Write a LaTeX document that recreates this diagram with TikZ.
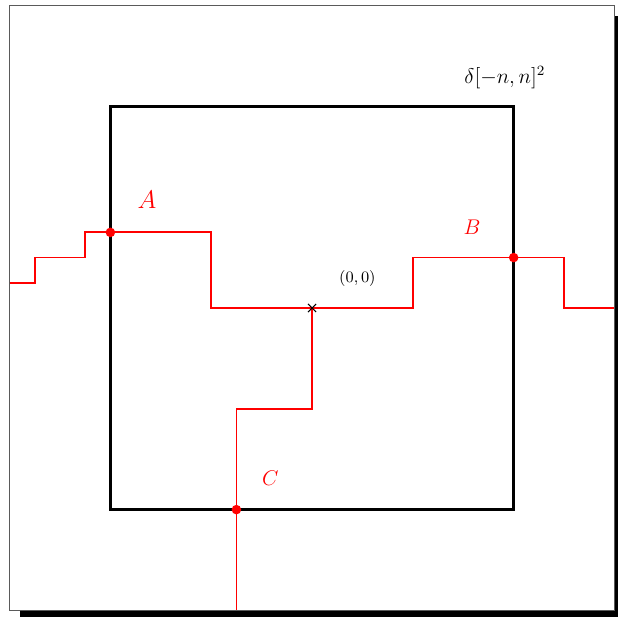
\documentclass[tikz,border=0pt]{standalone}
\usepackage{amsmath,amssymb}
\usepackage{tikz}
\usetikzlibrary{shadows}
\usepackage{xcolor}
\definecolor{framegray}{RGB}{90,90,90}

\begin{document}
\begin{tikzpicture}[x=0.5cm,y=0.5cm]
\useasboundingbox (-12.38,-12.26) rectangle (12.10,12.22);
\draw[framegray, fill=white, drop shadow={shadow xshift=0.2cm, shadow yshift=-0.2cm, opacity=1, fill=black}] (-12,-12) rectangle (12,12);
\draw[line width=1.6pt] (-8,-8) rectangle (8,8);
\coordinate (O) at (0,0);
\coordinate (A) at (-8,3);
\coordinate (B) at (8,2);
\coordinate (C) at (-3,-8);
\draw[red, line width=1pt] (-12,1) -- (-11,1) -- (-11,2) -- (-9,2) -- (-9,3) -- (A) -- (-4,3) -- (-4,0) -- (O);
\draw[red, line width=1pt] (O) -- (4,0) -- (4,2) -- (B) -- (10,2) -- (10,0) -- (12,0);
\draw[red, line width=1pt] (O) -- (0,-4) -- (-3,-4) -- (C) -- (-3,-12);
\fill[red] (A) circle (0.19);
\fill[red] (B) circle (0.19);
\fill[red] (C) circle (0.19);
\draw[semithick] (O) +(-0.16,-0.16) -- +(0.16,0.16);
\draw[semithick] (O) +(-0.16,0.16) -- +(0.16,-0.16);
\node[red] (labA) at (-6.55,4.3) {\Large $A$};
\node[red] (labB) at (6.35,3.2) {\large $B$};
\node[red] (labC) at (-1.65,-6.75) {\large $C$};
\node (labO) at (1.8,1.15) {\small $(0,0)$};
\node (labD) at (7.65,9.15) {\large $\delta[-n,n]^2$};
\end{tikzpicture}
\end{document}
